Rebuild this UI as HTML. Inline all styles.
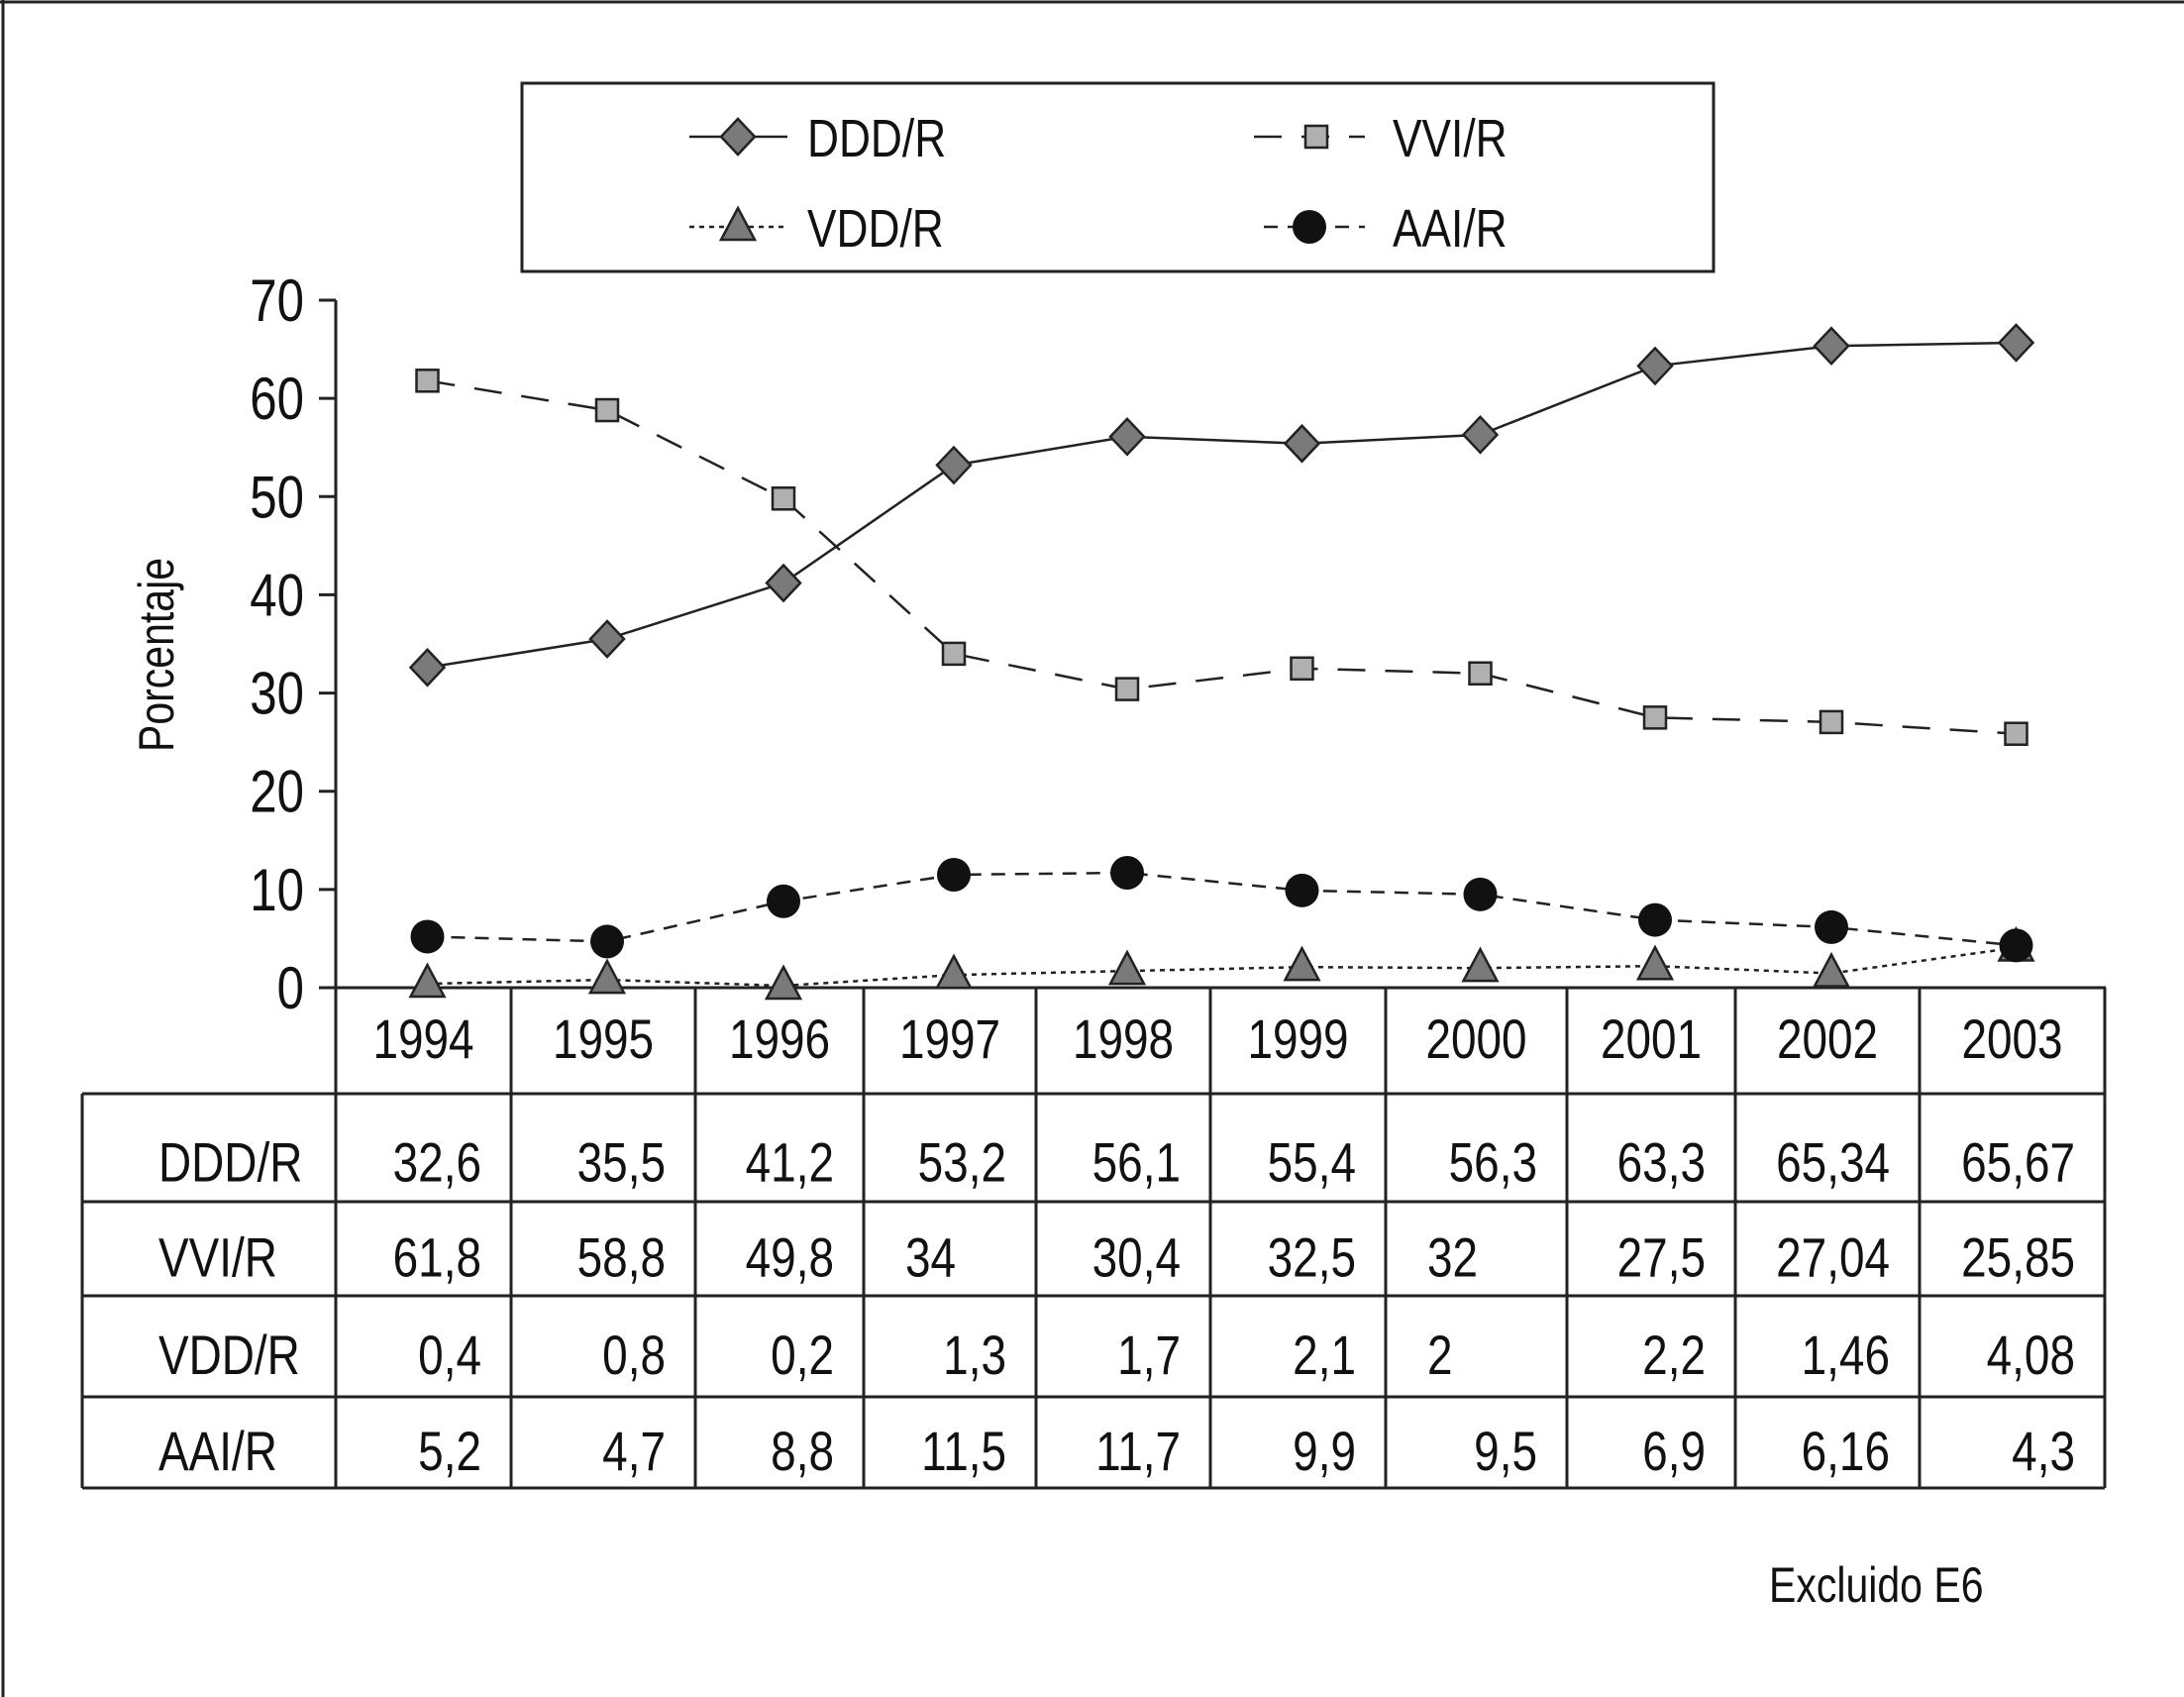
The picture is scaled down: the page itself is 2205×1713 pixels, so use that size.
<!DOCTYPE html>
<html><head><meta charset="utf-8"><style>
html,body{margin:0;padding:0;background:#fff;}
svg{display:block;}
text{font-family:"Liberation Sans Narrow","Liberation Sans",sans-serif;fill:#111;}
</style></head><body>
<svg id="chart" width="2205" height="1713" viewBox="0 0 2205 1713" xmlns="http://www.w3.org/2000/svg">
<line x1="3" y1="0" x2="3" y2="1713" stroke="#222" stroke-width="3"/>
<line x1="0" y1="2" x2="2205" y2="2" stroke="#222" stroke-width="3"/>
<g id="legend">
<rect x="527" y="84" width="1203" height="190" fill="#fff" stroke="#222" stroke-width="3"/>
</g>
<g transform="translate(175,661) rotate(-90) scale(0.82,1)"><text x="0" y="0" text-anchor="middle" font-size="50">Porcentaje</text></g>
<g transform="translate(1786,1617) scale(0.82,1)"><text x="0" y="0" font-size="50">Excluido E6</text></g>
<g id="plot"></g>
</svg>
<script>
const years = ["1994","1995","1996","1997","1998","1999","2000","2001","2002","2003"];
const seriesNames = ["DDD/R","VVI/R","VDD/R","AAI/R"];
const dddValues = [32.6,35.5,41.2,53.2,56.1,55.4,56.3,63.3,65.34,65.67];
const vviValues = [61.8,58.8,49.8,34,30.4,32.5,32,27.5,27.04,25.85];
const vddValues = [0.4,0.8,0.2,1.3,1.7,2.1,2,2.2,1.46,4.08];
const aaiValues = [5.2,4.7,8.8,11.5,11.7,9.9,9.5,6.9,6.16,4.3];
const dddLabels = ["32,6","35,5","41,2","53,2","56,1","55,4","56,3","63,3","65,34","65,67"];
const vviLabels = ["61,8","58,8","49,8","34","30,4","32,5","32","27,5","27,04","25,85"];
const vddLabels = ["0,4","0,8","0,2","1,3","1,7","2,1","2","2,2","1,46","4,08"];
const aaiLabels = ["5,2","4,7","8,8","11,5","11,7","9,9","9,5","6,9","6,16","4,3"];
const yTicks = [0,10,20,30,40,50,60,70];

const NS="http://www.w3.org/2000/svg";
const plot=document.getElementById('plot');
const legend=document.getElementById('legend');
const colEdges=[339,516,702,872,1046,1222,1399,1582,1752,1938,2125];
const y0=997, yTop=303, yMax=70;
function yScale(v){return y0-(v/yMax)*(y0-yTop);}
function xScale(i){return (colEdges[i]+colEdges[i+1])/2+4;}
function mk(tag,attrs,parent){const e=document.createElementNS(NS,tag);for(const k in attrs)e.setAttribute(k,attrs[k]);(parent||plot).appendChild(e);return e;}
function txt(x,y,str,size,anchor,parent){
  const g=mk('g',{transform:`translate(${x},${y}) scale(0.82,1)`},parent);
  const t=mk('text',{x:0,y:0,'text-anchor':anchor,'font-size':size},g);
  t.textContent=str;
  return t;
}

let ax=mk('line',{x1:339,y1:yTop,x2:339,y2:y0,stroke:'#222','stroke-width':3});


yTicks.forEach(t=>{
  const y=yScale(t);
  let tk=mk('line',{x1:322,y1:y,x2:339,y2:y,stroke:'#222','stroke-width':3});
  
  
  let tx=txt(307,y+21,String(t),60,'end');
  
  
});

const rowLines=[997,1104,1213,1308,1410,1502];
function tl(x1,y1,x2,y2,name){let l=mk('line',{x1,y1,x2,y2,stroke:'#222','stroke-width':3});}
tl(339,997,2126,997,'x-axis');
tl(83,1104,2125,1104,'table-line');
for(let r=2;r<rowLines.length;r++) tl(83,rowLines[r],2125,rowLines[r],'table-line');
tl(83,1104,83,1502,'table-line');
colEdges.forEach(x=>tl(x,997,x,1502,'table-line'));
years.forEach((yr,i)=>{
  let t=txt(xScale(i)-4,1068,yr,56,'middle');
  
  
});
const allLabels=[dddLabels,vviLabels,vddLabels,aaiLabels];
const leftAligned={"1-3":1,"1-6":1,"2-6":1};
const rowShift=[14,8,8,8];
seriesNames.forEach((n,r)=>{
  const yb=(rowLines[r+1]+rowLines[r+2])/2+20+rowShift[r];
  let t=txt(160,yb,n,56,'start');
  
  
  allLabels[r].forEach((lab,i)=>{
    let c;
    if(leftAligned[r+'-'+i]) c=txt(colEdges[i]+42,yb,lab,56,'start');
    else c=txt(colEdges[i+1]-30,yb,lab,56,'end');
    
    
  });
});

function marker(type,x,y,parent){
  let e;
  if(type==='diamond') e=mk('polygon',{points:`${x},${y-18} ${x+17},${y} ${x},${y+18} ${x-17},${y}`,fill:'#7a7a7a',stroke:'#222','stroke-width':2.5},parent);
  else if(type==='square') e=mk('rect',{x:x-11,y:y-11,width:22,height:22,fill:'#b0b0b0',stroke:'#222','stroke-width':2.5},parent);
  else if(type==='triangle') e=mk('polygon',{points:`${x},${y-19} ${x+17},${y+13} ${x-17},${y+13}`,fill:'#7a7a7a',stroke:'#222','stroke-width':2.5},parent);
  else e=mk('circle',{cx:x,cy:y,r:17,fill:'#111'},parent);
  return e;
}
const series=[
  {name:'ddd',vals:dddValues,type:'diamond',dash:''},
  {name:'vvi',vals:vviValues,type:'square',dash:'28 20'},
  {name:'vdd',vals:vddValues,type:'triangle',dash:'5 5'},
  {name:'aai',vals:aaiValues,type:'circle',dash:'14 10'}
];
series.forEach(s=>{
  const pts=s.vals.map((v,i)=>`${xScale(i)},${yScale(v)}`).join(' ');
  let pl=mk('polyline',{points:pts,fill:'none',stroke:'#222','stroke-width':2.5,'stroke-dasharray':s.dash});
  
  
  s.vals.forEach((v,i)=>{
    let m=marker(s.type,xScale(i),yScale(v));
    
    
  });
});

const leg=[
  {x1:696,x2:795,mx:745,y:138,tx:815,type:'diamond',dash:'',label:'DDD/R'},
  {x1:1266,x2:1378,mx:1329,y:138,tx:1406,type:'square',dash:'28 20',label:'VVI/R'},
  {x1:696,x2:795,mx:745,y:229,tx:815,type:'triangle',dash:'5 5',label:'VDD/R'},
  {x1:1276,x2:1378,mx:1322,y:229,tx:1406,type:'circle',dash:'14 10',label:'AAI/R'}
];
leg.forEach(l=>{
  let g=mk('g',{},legend);
  
  
  mk('line',{x1:l.x1,y1:l.y,x2:l.x2,y2:l.y,stroke:'#222','stroke-width':2.5,'stroke-dasharray':l.dash},g);
  marker(l.type,l.mx,l.y,g);
  txt(l.tx,l.y+20,l.label,54,'start',g);
});
</script>
</body></html>
